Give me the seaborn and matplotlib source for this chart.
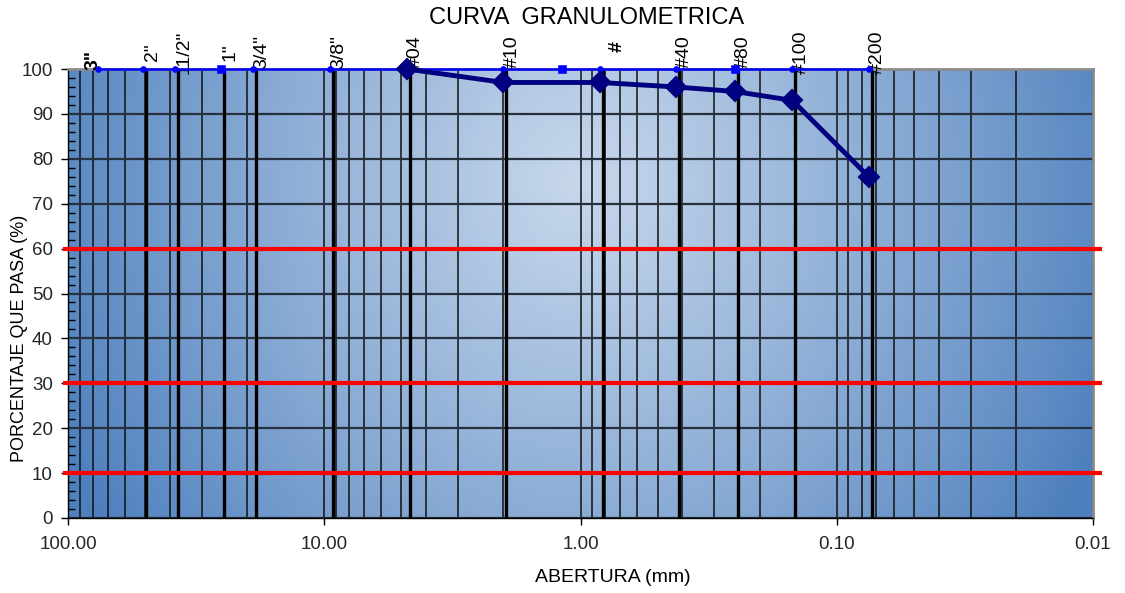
import numpy as np
import matplotlib
matplotlib.use("Agg")
import matplotlib.pyplot as plt
import matplotlib.transforms as mtransforms
from matplotlib.ticker import FixedLocator, MultipleLocator, LogLocator, NullFormatter
import seaborn as sns

# Tamices y sus aberturas (mm)
tamices = ['3"', '2"', '11/2"', '1"', '3/4"', '3/8"', '#04', '#10', '#', '#40', '#80', '#100', '#200']
aberturas = [76.2, 50.8, 38.1, 25.4, 19.05, 9.525, 4.76, 2.00, 0.84, 0.425, 0.25, 0.149, 0.075]

# Curva granulométrica de la muestra
abertura_muestra = [4.76, 2.00, 0.84, 0.425, 0.25, 0.149, 0.075]
pasa_muestra = [100, 97, 97, 96, 95, 93, 76]

# Puntos de la línea superior marcados con cuadro
aberturas_cuadro = [25.4, 1.18, 0.25]

# Líneas de referencia horizontales (%)
lineas_limite = [10, 30, 60]

x_ticks = [100, 10, 1, 0.1, 0.01]
x_ticklabels = ["100.00", "10.00", "1.00", "0.10", "0.01"]
y_ticks = list(range(0, 101, 10))

sns.set_theme(style="white")
plt.rcParams['font.family'] = ['Liberation Sans', 'DejaVu Sans']

W, H = 1125, 593
fig = plt.figure(figsize=(W / 100, H / 100), dpi=100)
pos = [68 / W, 1 - 518 / H, (1093 - 68) / W, (518 - 69) / H]

# Fondo degradado del área de trazado
bg = fig.add_axes(pos, zorder=0)
gh, gw = 300, 600
yy, xx = np.mgrid[0:1:gh * 1j, 0:1:gw * 1j]
r = np.sqrt(((xx - 0.5) / 0.55) ** 2 + ((yy - 0.25) / 1.4) ** 2)
t = np.clip(1 - r, 0, 1) ** 0.9
edge = np.array([78, 128, 190]) / 255
center = np.array([200, 216, 236]) / 255
img = edge + (center - edge) * t[..., None]
bg.imshow(img, aspect='auto', extent=(0, 1, 0, 1), interpolation='bilinear')
bg.axis('off')

ax = fig.add_axes(pos, zorder=1)
ax.patch.set_alpha(0)
ax.set_xscale('log')
ax.set_xlim(100, 0.01)
ax.set_ylim(0, 100)

# Rejilla
ax.xaxis.set_major_locator(FixedLocator(x_ticks))
ax.xaxis.set_minor_locator(LogLocator(base=10, subs=range(2, 10)))
ax.xaxis.set_minor_formatter(NullFormatter())
ax.set_xticklabels(x_ticklabels)
ax.set_yticks(y_ticks)
ax.yaxis.set_minor_locator(MultipleLocator(2))
ax.grid(True, which='both', axis='x', color='#111111', lw=1.1, zorder=1)
ax.grid(True, which='major', axis='y', color='#26313d', lw=1.6, zorder=1)
ax.set_axisbelow(True)

# Líneas gruesas en cada tamiz
shift = mtransforms.offset_copy(ax.transData, fig=fig, x=3, y=0, units='dots')
for d in aberturas[1:]:
    ax.plot([d, d], [0, 100], color='black', lw=2.4, transform=shift, zorder=2)

# Líneas rojas de referencia
blend = mtransforms.blended_transform_factory(ax.transAxes, ax.transData)
for yv in lineas_limite:
    ax.plot([-0.005, 1.009], [yv, yv], color='#ff0000', lw=3, transform=blend,
            clip_on=False, zorder=3, solid_capstyle='butt')

# Línea superior de tamices
top_x = sorted(aberturas + [1.18])
sns.lineplot(x=top_x, y=[100] * len(top_x), ax=ax, color='#0000ff', lw=1.8,
             marker='o', markersize=4, markeredgecolor='#0000ff', zorder=4,
             clip_on=False, sort=True)
sns.scatterplot(x=aberturas_cuadro, y=[100] * len(aberturas_cuadro), ax=ax,
                marker='s', color='#0000ff', s=28, edgecolor='#0000ff',
                zorder=4, clip_on=False)

# Curva granulométrica
sns.lineplot(x=abertura_muestra, y=pasa_muestra, ax=ax, color='#000080', lw=3.5,
             marker='D', markersize=10.5, markeredgecolor='#000080',
             markeredgewidth=1.5, zorder=5, clip_on=False, sort=False)

# Rótulos de los tamices
for lbl, d in zip(tamices, aberturas):
    dx, dy, weight = 9, 17, 'normal'
    if lbl == '3"':
        dx, dy, weight = -5, 9, 'bold'
    elif lbl == '#':
        dx, dy, weight = 17, 22, 'bold'
    ax.annotate(lbl, (d, 100), xytext=(dx, dy), textcoords='offset pixels',
                rotation=90, ha='center', va='center', fontsize=14,
                fontweight=weight, color='black', annotation_clip=False)

# Ejes y marcas
for side in ('top', 'right'):
    ax.spines[side].set_color('#8c8c8c')
    ax.spines[side].set_linewidth(2)
for side in ('left', 'bottom'):
    ax.spines[side].set_color('black')
    ax.spines[side].set_linewidth(1)
ax.tick_params(axis='y', which='major', direction='out', length=5, width=1,
               color='black', labelsize=13.5, pad=6, left=True)
ax.tick_params(axis='y', which='minor', direction='in', length=5, width=1,
               color='black', left=True)
ax.tick_params(axis='x', which='major', direction='out', length=5, width=1,
               color='black', labelsize=13.5, pad=8, bottom=True)
ax.tick_params(axis='x', which='minor', length=0)
ax.set_xlabel('')
ax.set_ylabel('')

fig.text(587 / W, 1 - 18 / H, 'CURVA  GRANULOMETRICA', ha='center', va='center',
         fontsize=17, color='black')
fig.text(20 / W, 1 - 338 / H, 'PORCENTAJE QUE PASA (%)', rotation=90,
         ha='center', va='center', fontsize=13, color='black')
fig.text(613 / W, 1 - 577 / H, 'ABERTURA (mm)', ha='center', va='center',
         fontsize=14, color='black')

fig.savefig('out.png', dpi=100, facecolor='white')
